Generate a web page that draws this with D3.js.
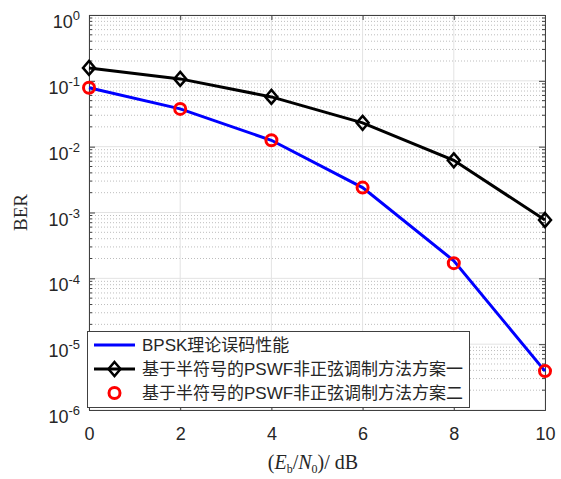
<!DOCTYPE html>
<meta charset="utf-8">
<style>
body { margin: 0; background: #fff; }
.tick text { font-family: "Liberation Sans", Arial, sans-serif; fill: #262626; }
.legend text { font-family: "Liberation Sans", "Noto Sans CJK SC", sans-serif; font-size: 17px; fill: #262626; }
</style>
<body>
<script src="https://d3js.org/d3.v7.min.js"></script>
<script>

// Eb/N0 in dB
var snr = [0, 2, 4, 6, 8, 10];
// BPSK theoretical BER
var berTheory = [0.0786, 0.0375, 0.0125, 0.00239, 0.000185, 0.0000039];
// half-symbol PSWF scheme one (black diamonds)
var berScheme1 = [0.157, 0.107, 0.057, 0.023, 0.0062, 0.00077];
// half-symbol PSWF scheme two (red circles)
var berScheme2 = [0.0786, 0.0375, 0.0125, 0.00239, 0.00017, 0.0000039];

var legendNames = ["BPSK理论误码性能", "基于半符号的PSWF非正弦调制方法方案一", "基于半符号的PSWF非正弦调制方法方案二"];
var xTicks = [0, 2, 4, 6, 8, 10];
var yExps = [0, -1, -2, -3, -4, -5, -6];

var W = 561, H = 479;
var margin = {top: 15, right: 16, bottom: 69, left: 89};

var svg = d3.select("body").append("svg")
	.attr("width", W)
	.attr("height", H);

// scales
var x = d3.scaleLinear().domain([0, 10]).range([margin.left, W - margin.right]);
var y = d3.scaleLog().domain([1e-6, 1]).range([H - margin.bottom, margin.top]);

var x0 = x.range()[0], x1 = x.range()[1];
var y0 = y.range()[0], y1 = y.range()[1];

// minor grid (dotted) for the log axis
var minors = [];
yExps.slice(0, -1).forEach(function(e) {
	for (var m = 2; m <= 9; m++) minors.push(m * Math.pow(10, e - 1));
});
svg.append("g").selectAll("line")
	.data(minors)
	.enter().append("line")
		.attr("x1", x0).attr("x2", x1)
		.attr("y1", function(d) { return y(d); })
		.attr("y2", function(d) { return y(d); })
		.attr("stroke", "#bdbdbd")
		.attr("stroke-width", 1)
		.attr("stroke-dasharray", "1,2");

// major grid
svg.append("g").selectAll("line")
	.data(yExps)
	.enter().append("line")
		.attr("x1", x0).attr("x2", x1)
		.attr("y1", function(d) { return y(Math.pow(10, d)); })
		.attr("y2", function(d) { return y(Math.pow(10, d)); })
		.attr("stroke", "#e3e3e3");
svg.append("g").selectAll("line")
	.data(xTicks)
	.enter().append("line")
		.attr("y1", y0).attr("y2", y1)
		.attr("x1", function(d) { return x(d); })
		.attr("x2", function(d) { return x(d); })
		.attr("stroke", "#e3e3e3");

// axes with inward ticks
var xAxis = svg.append("g")
	.attr("transform", "translate(0," + y0 + ")")
	.call(d3.axisBottom(x).tickValues(xTicks).tickSize(-5).tickPadding(17).tickFormat(d3.format("d")));
xAxis.selectAll("text").style("font-size", "18px");

svg.append("g")
	.attr("transform", "translate(0," + y1 + ")")
	.call(d3.axisTop(x).tickValues(xTicks).tickSize(-5).tickFormat(""));

var yAxis = svg.append("g")
	.attr("transform", "translate(" + x0 + ",0)")
	.call(d3.axisLeft(y).tickValues(yExps.map(function(e) { return Math.pow(10, e); })).tickSize(-6).tickPadding(9));
yAxis.selectAll(".tick text").each(function(d) {
	var t = d3.select(this);
	var e = Math.round(Math.log10(d));
	t.text("").attr("dy", "0.7em").style("font-size", "18px");
	t.append("tspan").text("10");
	t.append("tspan").attr("dy", "-0.6em").style("font-size", "13px").text(e);
});

svg.append("g")
	.attr("transform", "translate(" + x1 + ",0)")
	.call(d3.axisRight(y).tickValues(yExps.map(function(e) { return Math.pow(10, e); })).tickSize(-6).tickFormat(""));

// minor ticks left & right
[[x0, 1], [x1, -1]].forEach(function(s) {
	svg.append("g").selectAll("line")
		.data(minors)
		.enter().append("line")
			.attr("x1", s[0]).attr("x2", s[0] + 3 * s[1])
			.attr("y1", function(d) { return y(d); })
			.attr("y2", function(d) { return y(d); })
			.attr("stroke", "#404040");
});

svg.selectAll(".domain").attr("stroke", "#404040");
svg.selectAll(".tick line").attr("stroke", "#404040");

// series
var line = d3.line()
	.x(function(d) { return x(d[0]); })
	.y(function(d) { return y(d[1]); });

svg.append("path")
	.datum(d3.zip(snr, berTheory))
	.attr("d", line)
	.attr("fill", "none")
	.attr("stroke", "#0000ff")
	.attr("stroke-width", 3);

svg.append("path")
	.datum(d3.zip(snr, berScheme1))
	.attr("d", line)
	.attr("fill", "none")
	.attr("stroke", "#000")
	.attr("stroke-width", 3);

function diamond(g, cx, cy) {
	g.append("path")
		.attr("d", "M" + cx + "," + (cy - 7) + "L" + (cx + 6) + "," + cy + "L" + cx + "," + (cy + 7) + "L" + (cx - 6) + "," + cy + "Z")
		.attr("fill", "none")
		.attr("stroke", "#000")
		.attr("stroke-width", 2.5);
}

var mk = svg.append("g");
d3.zip(snr, berScheme1).forEach(function(d) { diamond(mk, x(d[0]), y(d[1])); });

svg.append("g").selectAll("circle")
	.data(d3.zip(snr, berScheme2))
	.enter().append("circle")
		.attr("cx", function(d) { return x(d[0]); })
		.attr("cy", function(d) { return y(d[1]); })
		.attr("r", 5.5)
		.attr("fill", "none")
		.attr("stroke", "#ff0000")
		.attr("stroke-width", 3);

// legend
var lg = svg.append("g").attr("class", "legend");
lg.append("rect")
	.attr("x", 87.5).attr("y", 331.5)
	.attr("width", 382).attr("height", 76)
	.attr("fill", "#fff")
	.attr("stroke", "#404040");

var rows = [345, 369, 393];
lg.append("line").attr("x1", 94).attr("x2", 135).attr("y1", rows[0]).attr("y2", rows[0])
	.attr("stroke", "#0000ff").attr("stroke-width", 3);
lg.append("line").attr("x1", 94).attr("x2", 135).attr("y1", rows[1]).attr("y2", rows[1])
	.attr("stroke", "#000").attr("stroke-width", 3);
diamond(lg, 114.5, rows[1]);
lg.append("circle").attr("cx", 114.5).attr("cy", rows[2]).attr("r", 5.5)
	.attr("fill", "none").attr("stroke", "#ff0000").attr("stroke-width", 3);

lg.selectAll("text.name")
	.data(legendNames)
	.enter().append("text")
		.attr("class", "name")
		.attr("x", 142)
		.attr("y", function(d, i) { return rows[i]; })
		.attr("dy", "0.35em")
		.text(function(d) { return d; });

// axis titles
svg.append("text")
	.attr("transform", "translate(27," + ((y0 + y1) / 2) + ") rotate(-90)")
	.attr("text-anchor", "middle")
	.style("font-family", "'Liberation Serif', 'Times New Roman', serif")
	.style("font-size", "19px")
	.attr("fill", "#262626")
	.text("BER");

var xl = svg.append("text")
	.attr("x", (x0 + x1) / 2 - 4)
	.attr("y", 469)
	.attr("text-anchor", "middle")
	.style("font-family", "'Liberation Serif', 'Times New Roman', serif")
	.style("font-size", "20px")
	.attr("fill", "#262626");
xl.append("tspan").text("(");
xl.append("tspan").style("font-style", "italic").text("E");
xl.append("tspan").attr("dy", 4).style("font-size", "12px").text("b");
xl.append("tspan").attr("dy", -4).text("/");
xl.append("tspan").style("font-style", "italic").text("N");
xl.append("tspan").attr("dy", 4).style("font-size", "12px").text("0");
xl.append("tspan").attr("dy", -4).text(")/ dB");

</script>
</body>
